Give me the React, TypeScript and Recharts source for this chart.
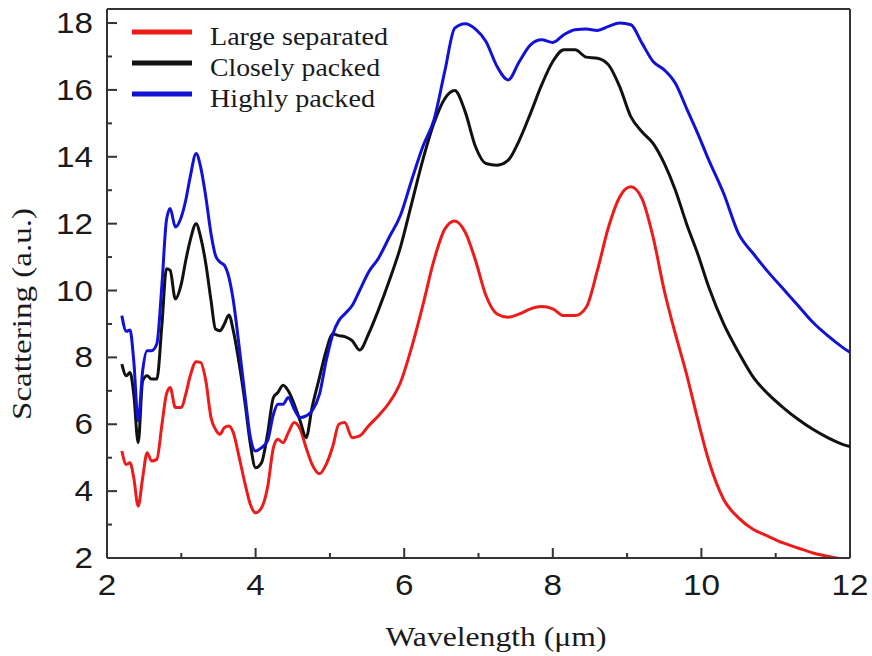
import { LineChart, Line, XAxis, YAxis, ReferenceLine, Legend } from 'recharts';

const wavelength = [
  2.2, 2.26, 2.31, 2.36, 2.42, 2.48, 2.54, 2.6, 2.67, 2.74, 2.8, 2.85, 2.92, 3.0, 3.06, 3.12,
  3.2, 3.26, 3.33, 3.4, 3.46, 3.52, 3.58, 3.64, 3.7, 3.78, 3.86, 3.93, 4.0, 4.08, 4.16, 4.24,
  4.3, 4.37, 4.44, 4.52, 4.6, 4.68, 4.76, 4.86, 4.95, 5.04, 5.12, 5.2, 5.3, 5.4, 5.52, 5.65,
  5.8, 5.95, 6.1, 6.25, 6.4, 6.55, 6.68, 6.82, 6.96, 7.1, 7.25, 7.4, 7.55, 7.7, 7.85, 8.0,
  8.15, 8.3, 8.45, 8.6, 8.75, 8.9, 9.05, 9.2, 9.35, 9.5, 9.65, 9.8, 9.95, 10.1, 10.3, 10.5,
  10.7, 10.9, 11.1, 11.3, 11.5, 11.7, 11.9, 12.0,
];

const largeSeparated = [
  5.2, 4.8, 4.85, 4.4, 3.55, 4.4, 5.15, 4.9, 4.95, 6.0, 6.9, 7.1, 6.5, 6.5, 6.9, 7.45,
  7.87, 7.85, 7.3, 6.2, 5.85, 5.7, 5.9, 5.95, 5.75, 5.0, 4.2, 3.6, 3.35, 3.5, 4.1, 5.3,
  5.55, 5.45, 5.75, 6.05, 5.85, 5.3, 4.8, 4.52, 4.8, 5.35, 6.0, 6.05, 5.6, 5.65, 5.95, 6.25,
  6.65, 7.25, 8.3, 9.55, 10.9, 11.85, 12.08, 11.75, 10.9, 9.85, 9.3, 9.2, 9.3, 9.45, 9.52, 9.45,
  9.25, 9.25, 9.5, 10.6, 11.9, 12.8, 13.1, 12.75, 11.6, 10.0, 8.7, 7.5, 6.15, 4.9, 3.75, 3.2,
  2.85, 2.65, 2.45, 2.3, 2.15, 2.05, 1.96, 1.9,
];

const closelyPacked = [
  7.8, 7.45, 7.55, 6.9, 5.45, 7.3, 7.45, 7.35, 7.35, 9.0, 10.65, 10.6, 9.75, 10.2, 10.9, 11.5,
  12.0, 11.6, 10.8, 9.7, 8.85, 8.8, 9.0, 9.27, 8.8, 7.8, 6.6, 5.4, 4.7, 4.85, 5.7, 6.8,
  6.95, 7.17, 7.0, 6.6, 6.1, 5.6, 6.5, 7.4, 8.2, 8.7, 8.65, 8.62, 8.5, 8.22, 8.7, 9.4,
  10.3, 11.3, 12.6, 13.9, 15.0, 15.75, 15.98, 15.35, 14.3, 13.8, 13.75, 13.9, 14.5, 15.3, 16.15, 16.85,
  17.2, 17.2, 16.98, 16.95, 16.75, 16.1, 15.2, 14.75, 14.4, 13.8, 13.0, 12.0, 11.1, 10.1, 9.0, 8.15,
  7.4, 6.9, 6.5, 6.15, 5.85, 5.6, 5.4, 5.33,
];

const highlyPacked = [
  9.25, 8.78, 8.82, 7.9, 6.1, 7.6, 8.2, 8.2, 8.4, 10.2, 12.1, 12.45, 11.9, 12.2, 12.7, 13.4,
  14.1, 13.7, 12.8, 11.7, 11.05, 10.85, 10.75, 10.4, 9.7, 8.3, 6.8, 5.6, 5.2, 5.3, 5.5, 6.3,
  6.6, 6.6, 6.8, 6.45, 6.2, 6.25, 6.4, 6.9, 7.9, 8.7, 9.1, 9.3, 9.55, 10.0, 10.55, 10.95,
  11.6, 12.25, 13.3, 14.3, 15.1, 16.6, 17.85, 17.98, 17.82, 17.45, 16.7, 16.3, 16.85, 17.35, 17.5, 17.42,
  17.65, 17.8, 17.82, 17.78, 17.9, 18.0, 17.95, 17.4, 16.85, 16.6, 16.2, 15.45, 14.7, 13.9, 12.9, 11.7,
  11.1, 10.55, 10.05, 9.55, 9.05, 8.65, 8.3, 8.15,
];

const xTicks = [2, 3, 4, 5, 6, 7, 8, 9, 10, 11, 12];
const yTicks = [2, 3, 4, 5, 6, 7, 8, 9, 10, 11, 12, 13, 14, 15, 16, 17, 18];

const seriesNames = ['Large separated', 'Closely packed', 'Highly packed'];
const seriesColors = ['#ee1b1b', '#111111', '#1212d6'];

const data = wavelength.map((w, i) => ({
  w,
  large: largeSeparated[i],
  closely: closelyPacked[i],
  highly: highlyPacked[i],
}));

const LEFT = 107;
const BOTTOM = 558;
const AXIS = '#333';
const SANS = '"Liberation Sans", Arial, sans-serif';
const SERIF = '"Liberation Serif", "Times New Roman", serif';

function YTick(props: any) {
  const { y, payload } = props;
  const v = payload.value as number;
  const major = v % 2 === 0;
  const s = String(v);
  return (
    <g>
      <line x1={LEFT} x2={LEFT + (major ? 10 : 5)} y1={y} y2={y} stroke={AXIS} strokeWidth={2} />
      {major && (
        <text x={LEFT - 14} y={y + 10} textAnchor="end" fontFamily={SANS} fontSize={29} fill="#1a1a1a"
          textLength={s.length * 18.5} lengthAdjust="spacingAndGlyphs">{s}</text>
      )}
    </g>
  );
}

function XTick(props: any) {
  const { x, payload } = props;
  const v = payload.value as number;
  const major = v % 2 === 0;
  const s = String(v);
  return (
    <g>
      <line x1={x} x2={x} y1={BOTTOM} y2={BOTTOM - (major ? 10 : 5)} stroke={AXIS} strokeWidth={2} />
      {major && (
        <text x={x} y={595} textAnchor="middle" fontFamily={SANS} fontSize={30} fill="#1a1a1a"
          textLength={s.length * 18.5} lengthAdjust="spacingAndGlyphs">{s}</text>
      )}
    </g>
  );
}

function LegendBox() {
  return (
    <svg width={400} height={120}>
      {seriesNames.map((name, i) => (
        <g key={name}>
          <line x1={132} x2={192} y1={32 + i * 31} y2={32 + i * 31} stroke={seriesColors[i]} strokeWidth={5} />
          <text x={210} y={44.5 + i * 31} fontFamily={SERIF} fontSize={26} fill="#1a1a1a"
            textLength={[178, 170, 165][i]} lengthAdjust="spacingAndGlyphs">{name}</text>
        </g>
      ))}
    </svg>
  );
}

export default function App() {
  return (
    <div style={{ position: 'absolute', left: 0, top: 0, width: 872, height: 656, background: '#fff' }}>
      <LineChart width={872} height={656} data={data} margin={{ top: 9, right: 22, bottom: 0, left: 0 }}>
        <XAxis
          dataKey="w"
          type="number"
          domain={[2, 12]}
          ticks={xTicks}
          interval={0}
          height={98}
          allowDataOverflow
          tickLine={false}
          tickSize={0}
          tickMargin={0}
          axisLine={{ stroke: AXIS, strokeWidth: 2 }}
          tick={<XTick />}
          label={() => (
            <text x={496} y={646} textAnchor="middle" fontFamily={SERIF} fontSize={27} fill="#1a1a1a"
              textLength={221} lengthAdjust="spacingAndGlyphs">Wavelength (μm)</text>
          )}
        />
        <YAxis
          type="number"
          domain={[2, 18.42]}
          ticks={yTicks}
          interval={0}
          width={107}
          allowDataOverflow
          tickLine={false}
          tickSize={0}
          tickMargin={0}
          axisLine={{ stroke: AXIS, strokeWidth: 2 }}
          tick={<YTick />}
          label={() => (
            <text x={31} y={314} transform="rotate(-90 31 314)" textAnchor="middle" fontFamily={SERIF}
              fontSize={27} fill="#1a1a1a" textLength={212} lengthAdjust="spacingAndGlyphs">Scattering (a.u.)</text>
          )}
        />
        <ReferenceLine x={12} stroke={AXIS} strokeWidth={2} />
        <ReferenceLine y={18.42} stroke={AXIS} strokeWidth={2} />
        <Legend
          layout="vertical"
          align="center"
          verticalAlign="middle"
          wrapperStyle={{ position: 'absolute', left: 0, top: 0, width: 400, height: 120 }}
          content={() => <LegendBox />}
        />
        <Line type="monotone" dataKey="large" name={seriesNames[0]} stroke={seriesColors[0]} strokeWidth={3}
          dot={false} isAnimationActive={false} />
        <Line type="monotone" dataKey="closely" name={seriesNames[1]} stroke={seriesColors[1]} strokeWidth={3}
          dot={false} isAnimationActive={false} />
        <Line type="monotone" dataKey="highly" name={seriesNames[2]} stroke={seriesColors[2]} strokeWidth={3}
          dot={false} isAnimationActive={false} />
      </LineChart>
    </div>
  );
}
